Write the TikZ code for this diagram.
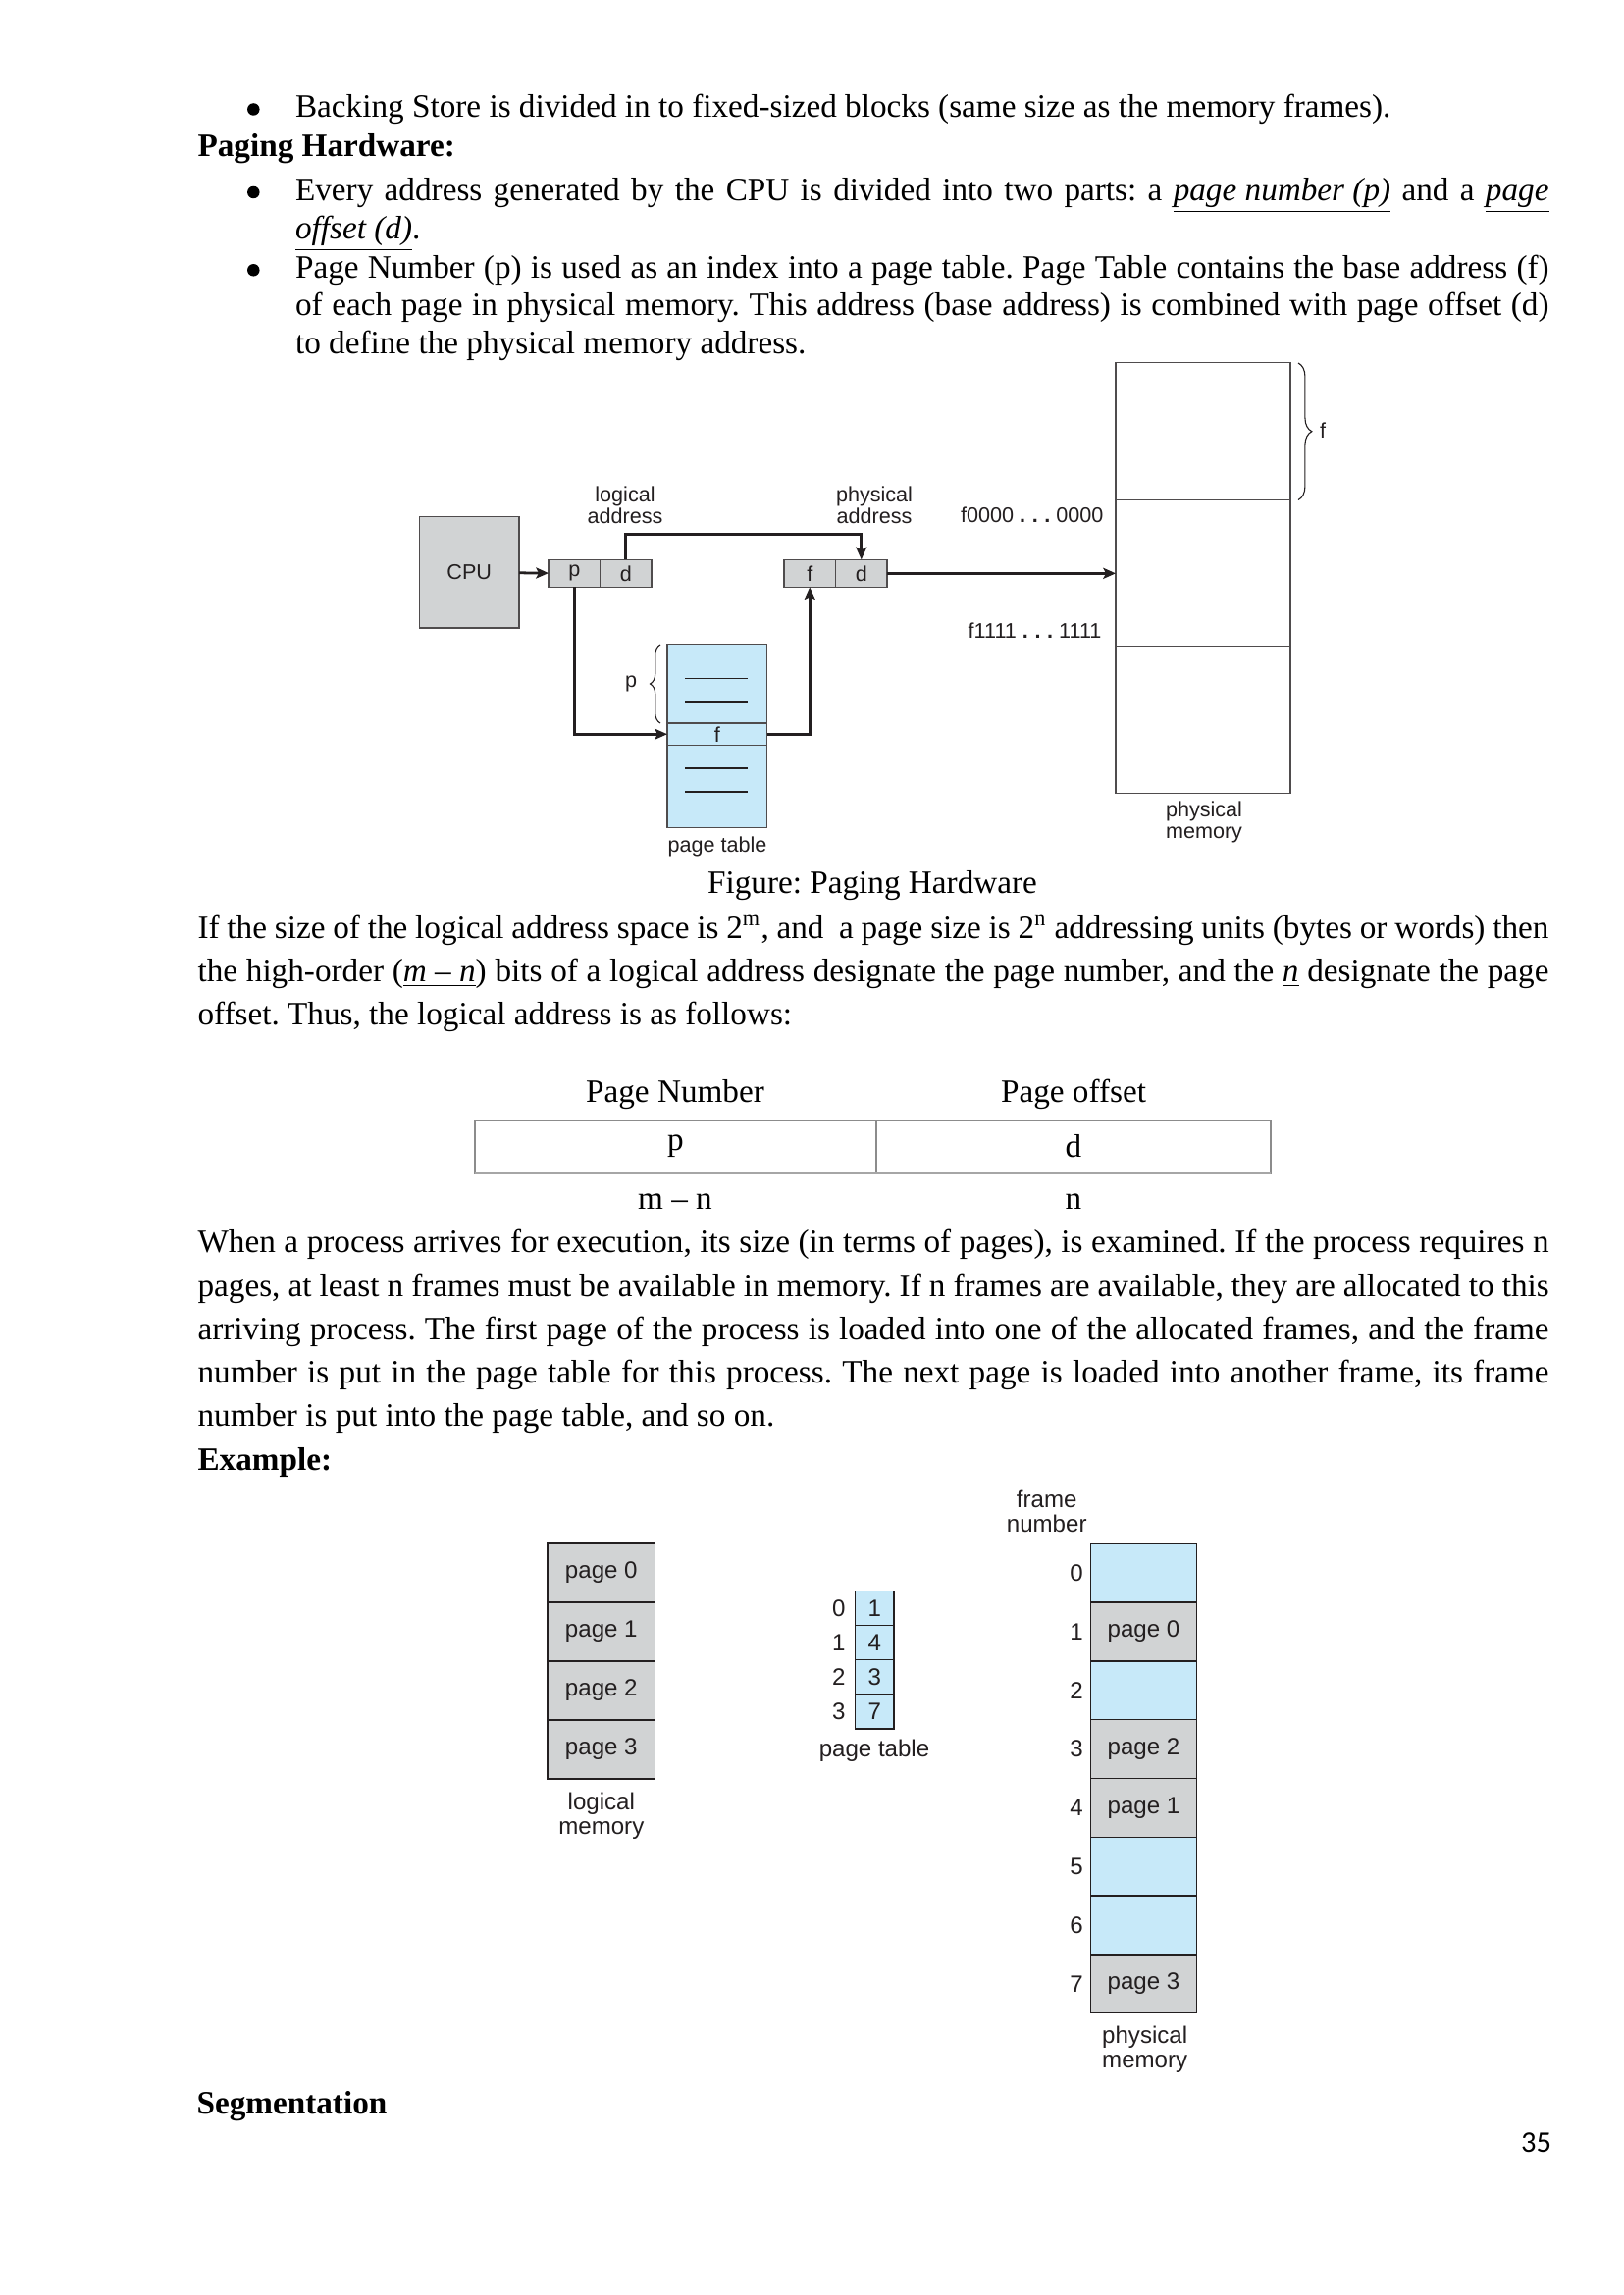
\documentclass[tikz,border=0pt]{standalone}
\usepackage{fontspec}
\setmainfont{Liberation Serif}
\setsansfont{Liberation Sans}
\newfontfamily\calfont{Carlito}
\usepackage{tikz}
\usetikzlibrary{positioning, arrows.meta, decorations.pathreplacing}
\frenchspacing

\definecolor{boxgray}{RGB}{209,211,212}
\definecolor{boxblue}{RGB}{199,233,249}
\definecolor{inkgray}{RGB}{35,31,32}

\newcommand\uit[1]{\underline{\textit{#1}}}
\newcommand\fullline[2]{\hbox to #1\dimexpr0.0126965cm\relax{#2}}
\newcommand\hwdots{{\bfseries .\hspace{2.4pt}.\hspace{2.4pt}.}}

\begin{document}
\begin{tikzpicture}[
    x=0.0126965cm, y=-0.0126965cm,
    txt/.style={anchor=base west, inner sep=0, font=\fontsize{12}{14}\selectfont},
    hd/.style={txt, font=\fontsize{12}{14}\selectfont\bfseries},
    dot/.style={circle, fill=black, inner sep=0, minimum size=12.5*0.0126965cm},
    hw/.style={font=\sffamily\fontsize{7.8}{8}\selectfont, text=inkgray, inner sep=0, align=center},
    ex/.style={font=\sffamily\fontsize{8.7}{9}\selectfont, text=inkgray, inner sep=0, align=center},
    field/.style={
        rectangle, draw=inkgray!80, line width=0.45pt, fill=boxgray,
        inner sep=0, outer sep=0,
        minimum width=52.5*0.0126965cm, minimum height=28*0.0126965cm,
        font=\sffamily\fontsize{7.8}{8}\selectfont, text=inkgray
    },
    frame/.style={
        rectangle, draw=inkgray!80, line width=0.45pt, fill=white,
        inner sep=0, outer sep=0, minimum width=178*0.0126965cm
    },
    pagebox/.style={
        rectangle, draw=inkgray, line width=0.5pt, fill=boxgray,
        inner sep=0, outer sep=0,
        font=\sffamily\fontsize{8.7}{9}\selectfont, text=inkgray
    },
    freebox/.style={pagebox, fill=boxblue},
    cell/.style={
        rectangle, draw=black!45, line width=0.5pt,
        inner sep=0, outer sep=0, minimum height=53.3*0.0126965cm,
        font=\fontsize{12}{14}\selectfont
    },
    conn/.style={draw=inkgray, line width=1pt, -{Stealth[length=4.6pt, width=4pt, inset=1pt]}},
    brc/.style={draw=inkgray, line width=0.4pt, decorate}
]

\fill[white] (0,0) rectangle (1654,2339);
\useasboundingbox (0,0) rectangle (1654,2339);

% text above the first figure
\node[dot] (b1) at (258.3,111.5) {};
\node[txt] (l1) at (300.5,120) {Backing Store is divided in to fixed-sized blocks (same size as the memory frames).};
\node[hd] (h1) at (201,159.3) {Paging Hardware:};
\node[dot] (b2) at (258.3,196) {};
\node[txt] (l2) at (300.5,204.3) {\fullline{1277.5}{Every address generated by the CPU is divided into two parts: a \uit{page number (p)} and a \uit{page}}};
\node[txt] (l3) at (300.5,243.6) {\uit{offset (d)}.};
\node[dot] (b3) at (258.3,275.3) {};
\node[txt] (l4) at (300.5,283.6) {\fullline{1277.5}{Page Number (p) is used as an index into a page table. Page Table contains the base address (f)}};
\node[txt] (l5) at (300.5,321.8) {\fullline{1277.5}{of each page in physical memory. This address (base address) is combined with page offset (d)}};
\node[txt] (l6) at (300.5,361) {to define the physical memory address.};

% paging hardware
\node[field, minimum width=101.5*0.0126965cm, minimum height=113.3*0.0126965cm] (cpu) at (478.25,583.35) {CPU};
\node[field] (lp) at (585.25,584.35) {p};
\node[field, right=0pt of lp] (ld) {d};
\node[field] (pf) at (825.25,584.35) {f};
\node[field, right=0pt of pf] (pd) {d};
\node[hw] (lalab) at (637,515) {logical\\address};
\node[hw] (palab) at (891,515) {physical\\address};

\node[field, fill=boxblue, minimum width=101.5*0.0126965cm, minimum height=187*0.0126965cm] (ptab) at (730.75,750.3) {};
\node[field, fill=boxblue, minimum width=101.5*0.0126965cm, minimum height=22.5*0.0126965cm] (ptf) at (730.75,748.25) {f};
\foreach \yy in {691.6,715,782.9,807}
    \draw[inkgray, line width=0.45pt] (698,\yy) -- (762,\yy);
\node[hw] (ptlab) at (731,863.4) {page table};
\draw[brc, decoration={brace, amplitude=3.8pt}] (673,737) -- (673,657);
\node[hw] (plab) at (643,697) {p};

\node[frame, minimum height=140.2*0.0126965cm] (fr1) at (1226,439.4) {};
\node[frame, minimum height=148.7*0.0126965cm, below=0pt of fr1] (fr2) {};
\node[frame, minimum height=150.1*0.0126965cm, below=0pt of fr2] (fr3) {};
\draw[brc, decoration={brace, amplitude=5pt}] (1323,370) -- (1323,509.5);
\node[hw] (flab) at (1348,439) {f};
\node[hw, anchor=east] (a0) at (1125,524.6) {f0000 \hwdots{} 0000};
\node[hw, anchor=east] (a1) at (1123,643) {f1111 \hwdots{} 1111};
\node[hw] (pmlab) at (1227,837.5) {physical\\memory};

\draw[conn] (cpu) -- (lp);
\draw[conn] (ld.north) -- ++(0,-26.2) -| (pd.north);
\draw[conn] (lp.south) |- (ptf.west);
\draw[conn] (ptf.east) -| (pf.south);
\draw[conn] (pd.east) -- (pd.east -| fr2.west);

\node[txt, anchor=base] (cap) at (889,910) {Figure: Paging Hardware};

% logical address format
\node[txt] (p1) at (201,956) {\fullline{1377}{If the size of the logical address space is 2\textsuperscript{m}, and~~a page size is 2\textsuperscript{n} addressing units (bytes or words) then}};
\node[txt] (p2) at (201,1000.5) {\fullline{1377}{the high-order (\uit{m – n}) bits of a logical address designate the page number, and the \uit{n} designate the page}};
\node[txt] (p3) at (201,1044.5) {offset. Thus, the logical address is as follows:};

\node[txt, anchor=base] (pnlab) at (688,1123) {Page Number};
\node[txt, anchor=base] (polab) at (1094,1123) {Page offset};
\node[cell, minimum width=409*0.0126965cm] (tp) at (688.5,1168.4) {p};
\node[cell, minimum width=402*0.0126965cm, right=0pt of tp] (td) {d};
\draw[black!35, line width=1pt] (tp.south west) -- (td.south east);
\node[txt, anchor=base] (mn) at (688,1232) {m – n};
\node[txt, anchor=base] (nn) at (1094,1232) {n};

\node[txt] (q1) at (201,1276.7) {\fullline{1377}{When a process arrives for execution, its size (in terms of pages), is examined. If the process requires n}};
\node[txt] (q2) at (201,1321) {\fullline{1377}{pages, at least n frames must be available in memory. If n frames are available, they are allocated to this}};
\node[txt] (q3) at (201,1365.2) {\fullline{1377}{arriving process. The first page of the process is loaded into one of the allocated frames, and the frame}};
\node[txt] (q4) at (201,1409.4) {\fullline{1377}{number is put in the page table for this process. The next page is loaded into another frame, its frame}};
\node[txt] (q5) at (201,1453.6) {number is put into the page table, and so on.};
\node[hd] (h2) at (201,1498.3) {Example:};

% example
\node[pagebox, minimum width=109.6*0.0126965cm, minimum height=60*0.0126965cm] (lm0) at (612.8,1603) {page 0};
\node[pagebox, minimum width=109.6*0.0126965cm, minimum height=60*0.0126965cm, below=0pt of lm0] (lm1) {page 1};
\node[pagebox, minimum width=109.6*0.0126965cm, minimum height=60*0.0126965cm, below=0pt of lm1] (lm2) {page 2};
\node[pagebox, minimum width=109.6*0.0126965cm, minimum height=60*0.0126965cm, below=0pt of lm2] (lm3) {page 3};
\node[ex] (lmlab) at (612.8,1850.4) {logical\\memory};

\node[freebox, minimum width=39.5*0.0126965cm, minimum height=35.1*0.0126965cm] (pt0) at (891.25,1638.95) {1};
\node[freebox, minimum width=39.5*0.0126965cm, minimum height=35.1*0.0126965cm, below=0pt of pt0] (pt1) {4};
\node[freebox, minimum width=39.5*0.0126965cm, minimum height=35.1*0.0126965cm, below=0pt of pt1] (pt2) {3};
\node[freebox, minimum width=39.5*0.0126965cm, minimum height=35.1*0.0126965cm, below=0pt of pt2] (pt3) {7};
\node[ex, left=3.4pt of pt0] (i0) {0};
\node[ex, left=3.4pt of pt1] (i1) {1};
\node[ex, left=3.4pt of pt2] (i2) {2};
\node[ex, left=3.4pt of pt3] (i3) {3};
\node[ex] (ptlab2) at (891,1784.7) {page table};

\node[ex] (fnlab) at (1066.7,1540.8) {frame\\number};
\node[freebox, minimum width=107.6*0.0126965cm, minimum height=59.8*0.0126965cm] (fm0) at (1165.5,1603.2) {};
\node[pagebox, minimum width=107.6*0.0126965cm, minimum height=59.8*0.0126965cm, below=0pt of fm0] (fm1) {page 0};
\node[freebox, minimum width=107.6*0.0126965cm, minimum height=59.8*0.0126965cm, below=0pt of fm1] (fm2) {};
\node[pagebox, minimum width=107.6*0.0126965cm, minimum height=59.8*0.0126965cm, below=0pt of fm2] (fm3) {page 2};
\node[pagebox, minimum width=107.6*0.0126965cm, minimum height=59.8*0.0126965cm, below=0pt of fm3] (fm4) {page 1};
\node[freebox, minimum width=107.6*0.0126965cm, minimum height=59.8*0.0126965cm, below=0pt of fm4] (fm5) {};
\node[freebox, minimum width=107.6*0.0126965cm, minimum height=59.8*0.0126965cm, below=0pt of fm5] (fm6) {};
\node[pagebox, minimum width=107.6*0.0126965cm, minimum height=59.8*0.0126965cm, below=0pt of fm6] (fm7) {page 3};
\node[ex, left=2.7pt of fm0] (n0) {0};
\node[ex, left=2.7pt of fm1] (n1) {1};
\node[ex, left=2.7pt of fm2] (n2) {2};
\node[ex, left=2.7pt of fm3] (n3) {3};
\node[ex, left=2.7pt of fm4] (n4) {4};
\node[ex, left=2.7pt of fm5] (n5) {5};
\node[ex, left=2.7pt of fm6] (n6) {6};
\node[ex, left=2.7pt of fm7] (n7) {7};
\node[ex] (pmlab2) at (1166.7,2089) {physical\\memory};

\node[hd] (h3) at (200,2154) {Segmentation};
\node[txt, anchor=base east, font=\calfont\fontsize{11}{13}\selectfont] (pgno) at (1581.5,2193) {35};

\end{tikzpicture}
\end{document}
